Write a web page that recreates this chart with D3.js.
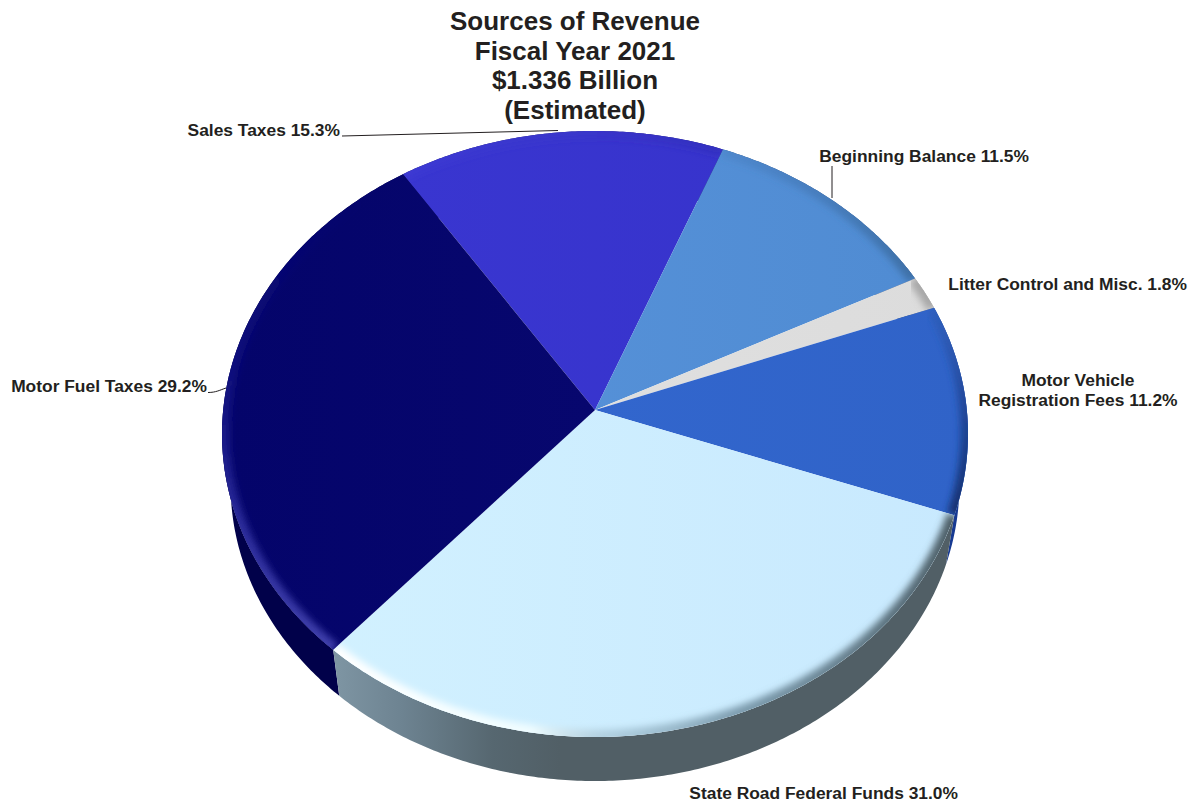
<!DOCTYPE html>
<html>
<head>
<meta charset="utf-8">
<script src="https://cdn.jsdelivr.net/npm/d3@7/dist/d3.min.js"></script>
<style>
html,body{margin:0;padding:0;background:#fff;}
svg{display:block;}
text{font-family:"Liberation Sans",Arial,sans-serif;font-weight:700;fill:#231f20;}
</style>
</head>
<body>
<svg id="chart" width="1197" height="805"></svg>
<script>
// ---- data ----
const categories = ["Sales Taxes","Beginning Balance","Litter Control and Misc.","Motor Vehicle\nRegistration Fees","State Road Federal Funds","Motor Fuel Taxes"];
const shares = [15.3,11.5,1.8,11.2,31.0,29.2];
const titleLines = ["Sources of Revenue","Fiscal Year 2021","$1.336 Billion","(Estimated)"];

// ---- styling / layout (not data) ----
const W=1197,H=805;
const apex=[595,410], A=371.8, B=301.1, persp=-0.0792;
const wallK=0.977, wallVP=[595,2650];
const startDeg=-33.4;
const topFill=[
  ["#3a37d2","#3632ca"],["#5a95dc","#4f8bd2"],["#e2e2e2","#dcdcdc"],
  ["#3469d2","#3063c8"],["#d3f2ff","#c8e9fe"],["#04046a","#0a0a72"]];
const wallFill=["#1d1a70","#2a4a7a","#888888","#173a92","url(#wallState)","#01014a"];
const labelPos=[
  {x:340,y:136,anchor:"end"},
  {x:1029,y:162,anchor:"end"},
  {x:1187,y:290,anchor:"end"},
  {x:1078,y:386,anchor:"middle"},
  {x:958,y:799,anchor:"end"},
  {x:207,y:392,anchor:"end"}];
const leaders=[
  {d:"M342,136 L558,130.5"},
  {d:"M832,166 L832,198"},
  {d:"M208,392.5 C216,392.5 220,390 226,388"}];

const svg=d3.select("#chart");
const defs=svg.append("defs");

// projection of the tilted disc: angle (clockwise from 12 o'clock) -> page
function project(a){
  const u=Math.sin(a), v=-Math.cos(a), w=1+persp*v;
  return [apex[0]+A*u/w, apex[1]+B*v/w];
}
function lower(p){
  return [wallVP[0]+(p[0]-wallVP[0])*wallK, wallVP[1]+(p[1]-wallVP[1])*wallK];
}
const line=d3.line();
function sample(a0,a1){
  const n=Math.max(4,Math.ceil(Math.abs(a1-a0)/0.01));
  return d3.range(n+1).map(i=>project(a0+(a1-a0)*i/n));
}

const s0=startDeg*Math.PI/180;
const arcs=d3.pie().sort(null).startAngle(s0).endAngle(s0+2*Math.PI)(shares);

// gradients
function grad(id,x1,y1,x2,y2,stops){
  const g=defs.append("linearGradient").attr("id",id).attr("gradientUnits","userSpaceOnUse")
    .attr("x1",x1).attr("y1",y1).attr("x2",x2).attr("y2",y2);
  stops.forEach(s=>g.append("stop").attr("offset",s[0]).attr("stop-color",s[1]).attr("stop-opacity",s[2]===undefined?1:s[2]));
}
grad("wallState",335,0,560,0,[[0,"#7e95a3"],[0.3,"#6d8391"],[0.7,"#566770"],[1,"#515f66"]]);
topFill.forEach((c,i)=>grad("top"+i,222,0,968,0,[[0,c[0]],[1,c[1]]]));
// rim shading per slice
grad("rim0",400,0,720,0,[[0,"#4a47dd",0.2],[1,"#2a27a8",0.35]]);
grad("rim1",720,150,915,285,[[0,"#3f72b0",0.25],[1,"#3a6a9c",0.85]]);
grad("rim2",910,280,935,312,[[0,"#9a9a9a",0.8],[1,"#9a9a9a",0.8]]);
grad("rim3",0,310,0,516,[[0,"#2a56a8",0.4],[0.45,"#1d4392",0.85],[1,"#12306f",1]]);
grad("rim4",334,0,952,0,[[0,"#ffffff",1],[0.32,"#f0fdff",1],[0.45,"#9ab9ca",0.6],[0.65,"#6b8a9c",0.8],[1,"#4d5f68",1]]);
grad("rim5",0,200,0,650,[[0,"#14148a",0],[0.42,"#1a1a8e",0.6],[0.72,"#3030a0",0.9],[1,"#4040ac",1]]);
const f=defs.append("filter").attr("id","soft").attr("x","-20%").attr("y","-20%").attr("width","140%").attr("height","140%");
f.append("feGaussianBlur").attr("stdDeviation",3.6);

// side walls (only the parts facing the viewer show)
const wallOrder=[5,3,2,1,0,4];
const walls=svg.append("g");
wallOrder.forEach(i=>{
  const d=arcs[i], top=sample(d.startAngle,d.endAngle);
  const pts=top.concat(top.map(lower).reverse());
  walls.append("path").attr("d",line(pts)+"Z").attr("fill",wallFill[i]);
});

// top faces
const faces=svg.append("g");
arcs.forEach((d,i)=>{
  const rimPts=sample(d.startAngle,d.endAngle);
  const outline=line([apex].concat(rimPts))+"Z";
  defs.append("clipPath").attr("id","clip"+i).append("path").attr("d",outline);
  faces.append("path").attr("d",outline).attr("fill",`url(#top${i})`);
  faces.append("g").attr("clip-path",`url(#clip${i})`)
    .append("path").attr("d",line(rimPts)).attr("fill","none")
    .attr("stroke",`url(#rim${i})`).attr("stroke-width",15).attr("filter","url(#soft)");
});

// leaders
svg.append("g").selectAll("path").data(leaders).join("path")
  .attr("d",d=>d.d).attr("fill","none").attr("stroke","#231f20").attr("stroke-width",1);

// labels
const labels=svg.append("g").style("font-size","17.4px");
categories.forEach((c,i)=>{
  const lines=c.split("\n");
  const p=labelPos[i];
  const t=labels.append("text").attr("text-anchor",p.anchor);
  lines.forEach((l,j)=>{
    const txt=j===lines.length-1?`${l} ${shares[i].toFixed(1)}%`:l;
    t.append("tspan").attr("x",p.x).attr("y",p.y+j*20).text(txt);
  });
});

// title
svg.append("g").selectAll("text").data(titleLines).join("text")
  .attr("x",575).attr("y",(d,i)=>30+i*29.7)
  .attr("text-anchor","middle").style("font-size","26px").text(d=>d);
</script>
</body>
</html>
